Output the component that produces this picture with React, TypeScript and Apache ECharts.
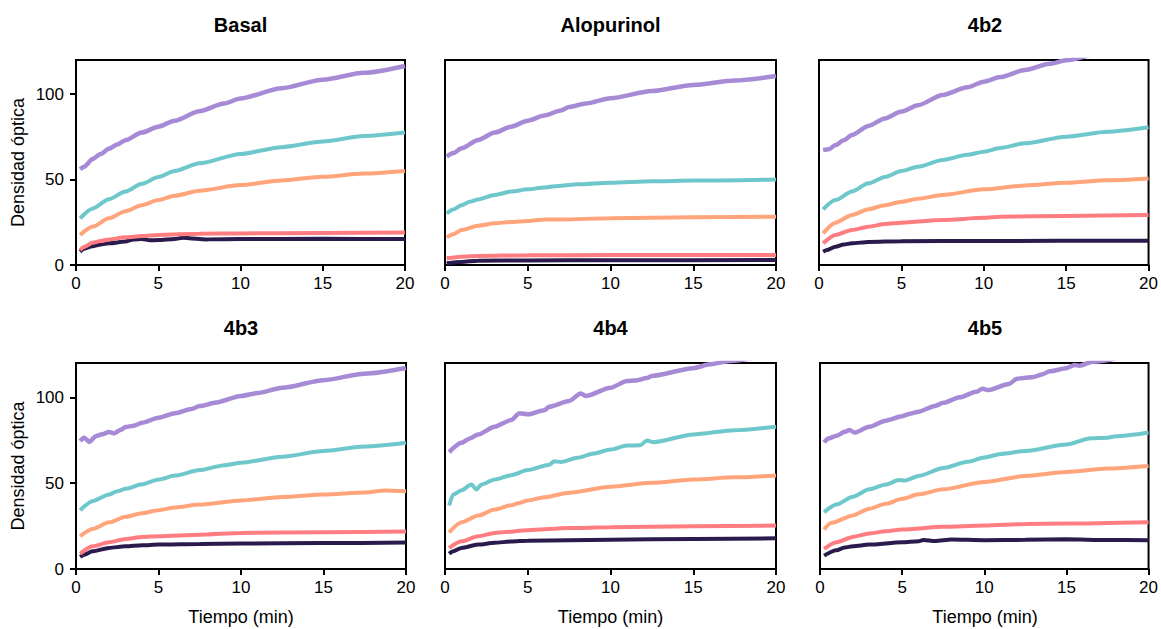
import React, { useEffect, useRef } from "react";
import * as echarts from "echarts";

const panelTitles = ["Basal", "Alopurinol", "4b2", "4b3", "4b4", "4b5"];
const xTicks = [0, 5, 10, 15, 20];
const yTicks = [0, 50, 100];
const seriesColors = ["#2B1A4C", "#FF7D80", "#FFA47B", "#6EC7CB", "#A78AD6"];
const xAxisTitle = "Tiempo (min)";
const yAxisTitle = "Densidad óptica";

// Basal
const basalNavy = [[0.25,7.8],[0.5,9.5],[1,11],[1.5,12],[2,12.7],[3,13.7],[3.5,15],[4,15.2],[4.5,14.5],[5,14.6],[6,15.2],[6.5,16],[7,15.5],[8,15],[10,15.2],[15,15.3],[20,15.2]];
const basalSalmon = [[0.25,8.8],[0.5,10.5],[1,13],[1.5,14],[2,15],[3,16.2],[4,17],[5,17.6],[7.5,18.3],[10,18.5],[15,18.8],[20,19]];
const basalOrange = [[0.25,17.6],[1,22.4],[2,27.3],[3,31.5],[4,35],[5,38],[6,40.5],[7.5,43.5],[10,46.8],[12.5,49.5],[15,51.7],[17.5,53.5],[20,55]];
const basalTeal = [[0.25,27.3],[1,33],[2,38.5],[3,43],[4,47.5],[5,51.5],[6,55],[7.5,59.5],[10,65],[12.5,69],[15,72.3],[17.5,75.5],[20,77.5]];
const basalPurple = [[0.25,56],[0.5,57.5],[1,62],[1.5,65],[2,68],[2.5,70.5],[3,73],[4,77.5],[5,81],[6,84.5],[7.5,90],[9,94.5],[10,97.5],[12.5,103.5],[15,108.5],[17.5,112.5],[20,116.5]];

// Alopurinol
const aloNavy = [[0.1,1],[1,1.8],[2,2.5],[5,2.7],[10,2.8],[20,2.9]];
const aloSalmon = [[0.1,3.9],[1,4.9],[2,5.3],[5,5.7],[10,5.8],[20,5.9]];
const aloOrange = [[0.1,16.2],[0.5,18],[1,20.5],[2,23],[3,24.4],[4,25.2],[5,25.8],[6,26.6],[7,26.7],[10,27.3],[15,27.9],[20,28.3]];
const aloTeal = [[0.1,30.2],[0.5,32.5],[1,35],[1.5,37],[2,38.4],[3,41],[4,43],[5,44.3],[6,45.4],[7,46.4],[8,47.2],[10,48.2],[12.5,49],[15,49.4],[20,50.1]];
const aloPurple = [[0.1,63.4],[0.5,65.5],[1,68.3],[2,73.2],[3,77.5],[4,81],[5,84.5],[6,87.5],[7,90.5],[7.5,92.5],[8.5,94.5],[10,97.6],[12.5,101.8],[15,105.4],[17.5,108],[20,110.6]];

// 4b2
const b2Navy = [[0.25,7.8],[0.5,8.8],[1,10.7],[1.5,12],[2,12.7],[3,13.5],[5,13.9],[10,14.1],[20,14.2]];
const b2Salmon = [[0.25,12.7],[1,17.6],[2,20.5],[3,22.4],[4,24],[5,24.8],[7.5,26.3],[10,27.6],[11,28.3],[15,28.7],[20,29.3]];
const b2Orange = [[0.25,18.5],[1,24.8],[2,29.3],[3,32.6],[4,35],[5,37],[6,38.8],[7.5,41],[10,44.3],[12.5,46.5],[15,48.2],[17.5,49.6],[20,50.7]];
const b2Teal = [[0.25,32.6],[1,38],[2,43],[3,47.8],[4,51.5],[5,55],[6,57.5],[7.5,61.5],[9,64.5],[10,66.3],[11,68.5],[12.5,71.2],[15,75.1],[17.5,78],[20,80.6]];
const b2Purple = [[0.25,67.3],[0.6,67.8],[1,70.2],[1.5,73],[2,76.1],[3,81.4],[4,85.8],[5,89.8],[6,93.5],[7.5,99.5],[9,104],[10,107.3],[11,110],[12.5,114.1],[14,117.8],[15,119.8],[17.5,125],[20,129]];

// 4b3
const b3Navy = [[0.25,7],[0.5,8.3],[1,10.3],[2,12.3],[3,13.2],[4,13.8],[5,14.2],[7.5,14.6],[10,14.8],[15,15.1],[20,15.4]];
const b3Salmon = [[0.25,8.9],[1,13.2],[2,15.6],[3,17.5],[4,18.7],[5,19.1],[7.5,20],[10,21],[15,21.4],[20,21.8]];
const b3Orange = [[0.25,19.1],[1,23.3],[2,27.2],[3,30.4],[4,32.5],[5,34.2],[6,35.8],[7.5,37.5],[10,39.9],[12.5,42],[15,43.4],[17.5,44.5],[18.7,45.8],[20,45.3]];
const b3Teal = [[0.25,34.2],[1,39.5],[2,43.4],[2.5,45.3],[3,46.7],[4,49.3],[5,52.1],[6,54.4],[7.5,57.6],[9,60.5],[10,61.9],[12.5,65.4],[15,68.7],[17.5,71.3],[20,73.5]];
const b3Purple = [[0.25,74.5],[0.5,76.5],[0.8,74],[1.2,77.4],[1.6,78.5],[2,79.8],[2.3,79],[2.7,81],[3,82.7],[3.5,83.5],[4,85.2],[5,88.1],[6,90.8],[7,93.2],[7.5,94.9],[8.5,97],[10,100.8],[11,102.5],[12.5,105.6],[15,110],[17.5,113.8],[20,117.1]];

// 4b4
const b4Navy = [[0.25,8.9],[0.5,10.3],[1,12.3],[2,14.2],[3,15.3],[4,16],[5,16.5],[10,17.1],[15,17.5],[20,17.9]];
const b4Salmon = [[0.25,12.3],[1,16.1],[2,19.1],[3,21],[3.5,21.4],[5,22.6],[7.5,23.9],[10,24.3],[15,24.9],[20,25.3]];
const b4Orange = [[0.25,21.4],[1,27.2],[2,31.1],[3,34.6],[4,37.2],[4.5,38.5],[5,39.9],[6,41.8],[7.5,44.4],[10,47.9],[12.5,50.2],[15,52.1],[17.5,53.4],[20,54.5]];
const b4Teal = [[0.25,37],[0.5,43.4],[1,45.9],[1.6,49.2],[1.9,46.3],[2.2,49.2],[3,52.1],[4,54.6],[5,57.6],[6.3,60.7],[6.6,62.8],[7,62.3],[8,64.8],[9,67.3],[10,69.6],[11,71.9],[11.8,72.1],[12.2,74.9],[12.6,73.9],[15,78.4],[17.5,80.8],[20,82.9]];
const b4Purple = [[0.25,68.1],[1,73.5],[1.5,76],[2,78.4],[3,82.9],[4,86.8],[4.5,90.7],[5,90.1],[6,92.5],[6.3,94.5],[7.5,97.9],[8.2,102.3],[8.5,100.8],[10,105.6],[11,109.5],[11.5,109.8],[12.2,111.2],[12.5,112.5],[15,117],[16,119.2],[17.2,121.2],[20,126]];

// 4b5
const b5Navy = [[0.25,7.8],[1,10.9],[1.5,12.5],[2,13.3],[3,14.2],[5,15.6],[6,16.2],[6.3,16.9],[7,16.3],[8,17.2],[10,16.8],[12.5,17],[15,17.3],[17.5,16.9],[20,16.8]];
const b5Salmon = [[0.25,11.7],[1,15.6],[2,18.7],[3,20.7],[4,22],[5,23],[7.5,24.6],[10,25.3],[12.5,26.2],[15,26.5],[20,27.3]];
const b5Orange = [[0.25,23],[0.7,26.9],[2,31.2],[3,35.1],[4,38],[5,40.9],[6,43.5],[7.5,46.4],[10,50.7],[12.5,54.2],[15,56.5],[17.5,58.5],[20,60]];
const b5Teal = [[0.25,33.1],[1,37.6],[2,42.1],[3,46.4],[4,49.2],[4.8,51.8],[5.2,51.6],[6,54.2],[7.5,58.8],[9,62.5],[10,65],[11,67],[12.5,68.7],[15,72.5],[16.5,76.2],[17.5,76.5],[18,77.3],[20,79.5]];
const b5Purple = [[0.25,73.7],[0.5,76],[1,77.6],[1.5,79.9],[1.8,81],[2.1,79.5],[3,82.8],[4,86.4],[5,89],[5.5,90.5],[6,91.6],[7,95],[7.5,96.8],[8.5,100],[9.5,103.2],[9.9,105],[10.2,104.2],[11.5,107.8],[12,110.8],[12.4,111.3],[13,111.8],[13.5,113.3],[14,115.2],[15,117],[15.5,118.8],[15.8,118.4],[16.6,120.8],[20,127]];

const panelData = [
  [basalNavy, basalSalmon, basalOrange, basalTeal, basalPurple],
  [aloNavy, aloSalmon, aloOrange, aloTeal, aloPurple],
  [b2Navy, b2Salmon, b2Orange, b2Teal, b2Purple],
  [b3Navy, b3Salmon, b3Orange, b3Teal, b3Purple],
  [b4Navy, b4Salmon, b4Orange, b4Teal, b4Purple],
  [b5Navy, b5Salmon, b5Orange, b5Teal, b5Purple],
];

const FONT = "'Liberation Sans', Arial, Helvetica, sans-serif";

const grids = [
  { left: 76, top: 60, width: 329, height: 205 },
  { left: 445, top: 60, width: 331, height: 205 },
  { left: 819, top: 60, width: 332, height: 205 },
  { left: 76, top: 363, width: 330, height: 206 },
  { left: 445, top: 363, width: 331, height: 206 },
  { left: 820, top: 363, width: 330, height: 206 },
];

export default function App() {
  const ref = useRef<HTMLDivElement>(null);
  useEffect(() => {
    if (!ref.current) return;
    const chart = echarts.init(ref.current, undefined, { renderer: "svg" });
    const grid = grids.map((g) => ({
      ...g,
      show: true,
      borderColor: "#000",
      borderWidth: 2,
      backgroundColor: "transparent",
      containLabel: false,
    }));
    const xAxis = grids.map((_, i) => ({
      type: "value",
      gridIndex: i,
      min: 0,
      max: 20,
      interval: 5,
      axisLine: { show: true, lineStyle: { color: "#000", width: 2 } },
      axisTick: { show: true, length: 6, lineStyle: { color: "#000", width: 2 }, customValues: xTicks },
      axisLabel: { show: true, color: "#000", fontSize: 17, fontFamily: FONT, margin: 10, customValues: xTicks },
      splitLine: { show: false },
    }));
    const yAxis = grids.map((_, i) => {
      const leftCol = i % 3 === 0;
      return {
        type: "value",
        gridIndex: i,
        min: 0,
        max: 120,
        interval: 50,
        axisLine: { show: true, lineStyle: { color: "#000", width: 2 } },
        axisTick: { show: leftCol, length: 6, lineStyle: { color: "#000", width: 2 }, customValues: yTicks },
        axisLabel: { show: leftCol, color: "#000", fontSize: 17, fontFamily: FONT, margin: 12, customValues: yTicks },
        splitLine: { show: false },
      };
    });
    const series: any[] = [];
    panelData.forEach((lines, i) => {
      lines.forEach((d, j) => {
        series.push({
          type: "line",
          xAxisIndex: i,
          yAxisIndex: i,
          data: d,
          showSymbol: false,
          symbol: "none",
          smooth: 0.25,
          smoothMonotone: "x",
          clip: true,
          lineStyle: { color: seriesColors[j], width: j === 4 ? 4.5 : 4 },
          z: 2 + j,
        });
      });
    });
    const graphic: any[] = [];
    grids.forEach((g, i) => {
      graphic.push({
        type: "text",
        x: g.left + g.width / 2,
        y: g.top - 35,
        style: {
          text: panelTitles[i],
          font: `bold 20px ${FONT}`,
          fill: "#000",
          align: "center",
          verticalAlign: "middle",
          textAlign: "center",
          textVerticalAlign: "middle",
        },
      });
      if (i % 3 === 0) {
        graphic.push({
          type: "text",
          x: 18,
          y: g.top + g.height / 2,
          rotation: Math.PI / 2,
          style: {
            text: yAxisTitle,
            font: `18px ${FONT}`,
            fill: "#000",
            align: "center",
            verticalAlign: "middle",
            textAlign: "center",
            textVerticalAlign: "middle",
          },
        });
      }
      if (i >= 3) {
        graphic.push({
          type: "text",
          x: g.left + g.width / 2,
          y: 617,
          style: {
            text: xAxisTitle,
            font: `18px ${FONT}`,
            fill: "#000",
            align: "center",
            verticalAlign: "middle",
            textAlign: "center",
            textVerticalAlign: "middle",
          },
        });
      }
    });
    chart.setOption({
      animation: false,
      backgroundColor: "#fff",
      grid,
      xAxis,
      yAxis,
      series,
      graphic,
    });
    return () => chart.dispose();
  }, []);
  return (
    <div
      ref={ref}
      style={{ position: "absolute", left: 0, top: 0, width: 1161, height: 629 }}
    />
  );
}
